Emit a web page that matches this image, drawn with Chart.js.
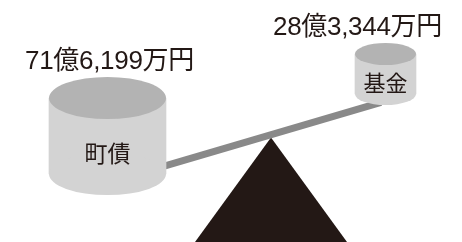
<!DOCTYPE html>
<html lang="ja">
<head>
<meta charset="utf-8">
<script src="https://cdn.jsdelivr.net/npm/chart.js@4.4.1/dist/chart.umd.min.js"></script>
<style>
  html, body { margin: 0; padding: 0; background: #fff; }
  #wrap { width: 462px; height: 242px; position: relative; }
</style>
</head>
<body>
<div id="wrap"><canvas id="c"></canvas></div>
<script>
// scene units: x 0..462, y 0..242 (top to bottom)
const categories = ['町債', '基金'];
const amountLabels = ['71億6,199万円', '28億3,344万円'];
const cylinderX = [107.5, 385.5];
const cylinderTop = [98, 54];
const cylinderBottom = [174, 94];
const beamX = [160, 381];
const beamY = [167.3, 102.4];
const fulcrumX = [195, 271, 347];
const fulcrumY = [242, 137.5, 242];

const cylinderWidths = [117, 61];
const INK = '#231815';
const SIDE = '#d3d3d3';
const LID = '#b3b3b3';
const FONT = '"Noto Sans CJK JP", "Noto Sans", sans-serif';
const AMOUNT_FONT = '"Liberation Sans", "Noto Sans CJK JP", sans-serif';

// turns the floating bars into cylinders and writes the labels
const cylinders = {
  id: 'cylinders',
  afterDatasetsDraw(chart) {
    const ctx = chart.ctx;
    categories.forEach((name, i) => {
      const bar = chart.getDatasetMeta(i).data[0];
      const top = Math.min(bar.y, bar.base);
      const bottom = Math.max(bar.y, bar.base);
      const rx = bar.width / 2;
      const ry = rx * 0.36;
      ctx.save();
      ctx.fillStyle = SIDE;
      ctx.beginPath();
      ctx.ellipse(bar.x, bottom, rx, ry, 0, 0, Math.PI * 2);
      ctx.fill();
      ctx.fillStyle = LID;
      ctx.beginPath();
      ctx.ellipse(bar.x, top, rx, ry, 0, 0, Math.PI * 2);
      ctx.fill();

      ctx.fillStyle = INK;
      ctx.textAlign = 'center';
      ctx.textBaseline = 'middle';
      ctx.font = (i === 0 ? 23 : 22) + 'px ' + FONT;
      ctx.fillText(name, bar.x, (top + bottom) / 2 + ry * 0.8);

      ctx.font = '26px ' + AMOUNT_FONT;
      ctx.letterSpacing = '-0.3px';
      const w = ctx.measureText(amountLabels[i]).width;
      let cx = bar.x + 2;
      if (cx + w / 2 > chart.width - 20) cx = chart.width - 20 - w / 2;
      ctx.fillText(amountLabels[i], cx, top - ry - 15);
      ctx.restore();
    });
  }
};

const datasets = categories.map((name, i) => ({
  type: 'bar',
  label: name,
  data: [{ x: cylinderX[i], y: [cylinderBottom[i], cylinderTop[i]] }],
  barThickness: cylinderWidths[i],
  grouped: false,
  backgroundColor: SIDE,
  borderWidth: 0
}));

datasets.push({
  type: 'line',
  label: 'beam',
  data: beamX.map((x, i) => ({ x, y: beamY[i] })),
  borderColor: '#898989',
  borderWidth: 7,
  borderCapStyle: 'butt',
  pointRadius: 0,
  fill: false
});

datasets.push({
  type: 'line',
  label: 'fulcrum',
  data: fulcrumX.map((x, i) => ({ x, y: fulcrumY[i] })),
  borderWidth: 0,
  backgroundColor: INK,
  pointRadius: 0,
  tension: 0,
  fill: { value: 242 }
});

new Chart(document.getElementById('c'), {
  type: 'bar',
  data: { datasets },
  options: {
    responsive: true,
    maintainAspectRatio: false,
    animation: false,
    layout: { padding: 0 },
    plugins: { legend: { display: false }, tooltip: { enabled: false } },
    scales: {
      x: { type: 'linear', min: 0, max: 462, offset: false, display: false },
      y: { type: 'linear', min: 0, max: 242, reverse: true, offset: false, display: false }
    }
  },
  plugins: [cylinders]
});
</script>
</body>
</html>
